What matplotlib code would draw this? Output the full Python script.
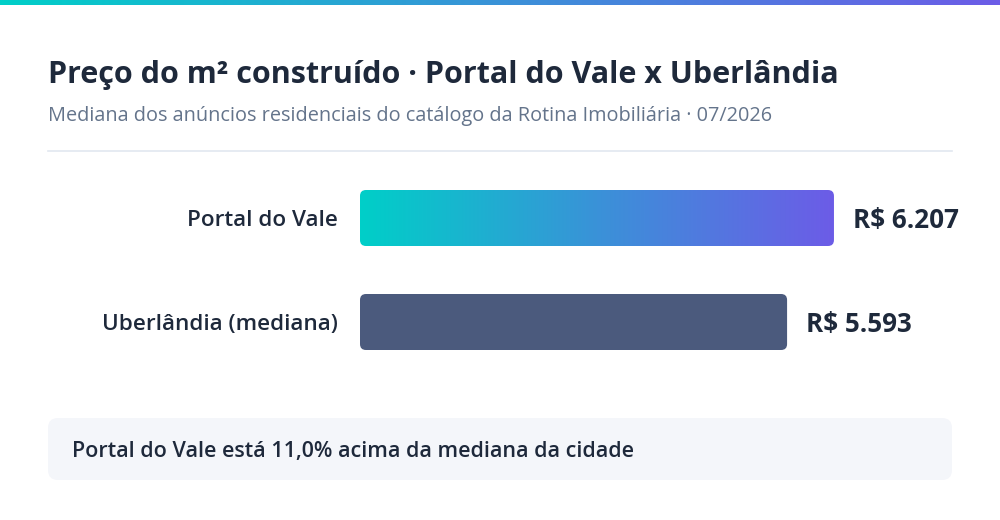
import matplotlib.pyplot as plt
import numpy as np
from matplotlib.patches import FancyBboxPatch
from matplotlib.colors import LinearSegmentedColormap

plt.rcParams['font.family'] = ['Open Sans', 'DejaVu Sans']

# dados
categorias = ['Portal do Vale', 'Uberlândia (mediana)']
precos = [6207, 5593]
rotulos = ['R$ 6.207', 'R$ 5.593']
titulo = 'Preço do m² construído · Portal do Vale x Uberlândia'
subtitulo = 'Mediana dos anúncios residenciais do catálogo da Rotina Imobiliária · 07/2026'
nota = 'Portal do Vale está 11,0% acima da mediana da cidade'

W, H = 1000, 520
escuro = '#1E293B'
grad = LinearSegmentedColormap.from_list('g', ['#00CFC8', '#3A92D8', '#6C5CE7'])

fig = plt.figure(figsize=(W / 100, H / 100), dpi=100)
fig.patch.set_facecolor('white')

# camada de fundo em pixels
bg = fig.add_axes([0, 0, 1, 1])
bg.set_xlim(0, W)
bg.set_ylim(H, 0)
bg.axis('off')

# faixa superior em gradiente
g = np.linspace(0, 1, 256).reshape(1, -1)
bg.imshow(g, cmap=grad, extent=[0, W, 5, 0], aspect='auto', zorder=1)

bg.text(48, 83, titulo, fontsize=22, fontweight='bold', color=escuro, va='baseline')
bg.text(48, 121, subtitulo, fontsize=14.3, color='#64748B', va='baseline')
bg.plot([48, 952], [151, 151], color='#E2E8F0', lw=1.2)

# caixa de nota
caixa = FancyBboxPatch((48, 418), 904, 62, boxstyle='round,pad=0,rounding_size=10',
                       facecolor='#F4F6FA', edgecolor='none', zorder=1)
bg.add_patch(caixa)
bg.text(72, 451, nota, fontsize=15.5, fontweight='semibold', color=escuro, va='center')

# eixo das barras
px_x = 0.07636  # px por real
x0, x1 = 360, 1000
y_top, y_bot = 170, 370
ax = fig.add_axes([x0 / W, 1 - y_bot / H, (x1 - x0) / W, (y_bot - y_top) / H])
ax.axis('off')
ax.patch.set_alpha(0)

alt = 56 / 104
barras = ax.barh(range(len(categorias)), precos, height=alt, color='none')

raio = 6 / px_x
aspecto = (1 / 104) / (1 / px_x)
cores = [None, '#4B5A7D']
for i, b in enumerate(barras):
    p = FancyBboxPatch((b.get_x(), b.get_y()), b.get_width(), b.get_height(),
                       boxstyle=f'round,pad=0,rounding_size={raio}',
                       mutation_aspect=aspecto,
                       facecolor=cores[i] if cores[i] else 'none', edgecolor='none', zorder=2)
    ax.add_patch(p)
    if cores[i] is None:
        im = ax.imshow(g, cmap=grad, aspect='auto', zorder=2,
                       extent=[b.get_x(), b.get_x() + b.get_width(),
                               b.get_y() + b.get_height(), b.get_y()])
        im.set_clip_path(p)
    ax.annotate(rotulos[i], (b.get_width(), i), xytext=(13.7, -2), textcoords='offset points',
                fontsize=18.7, fontweight='bold', color=escuro, va='center', ha='left')
    ax.annotate(categorias[i], (0, i), xytext=(-16, -2), textcoords='offset points',
                fontsize=16.2, fontweight='semibold', color=escuro, va='center', ha='right')

ax.set_xlim(0, (x1 - x0) / px_x)
ax.set_ylim(1 + 48 / 104, -48 / 104)

fig.savefig('out.png', dpi=100)
